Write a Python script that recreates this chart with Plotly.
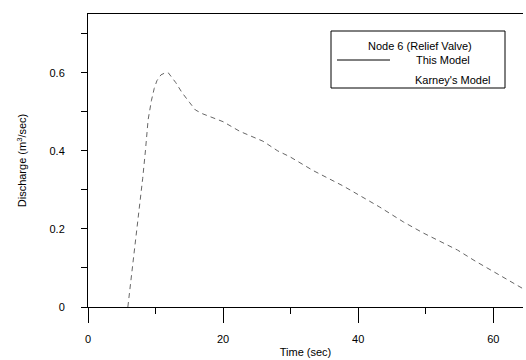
import plotly.graph_objects as go

# Data
time_sec = [5.9, 7.0, 8.1, 8.5, 8.9, 9.4, 9.8, 10.2, 10.8, 11.4, 11.9, 13.0, 13.9,
            15.0, 15.9, 17.0, 20.0, 22.5, 25.9, 28.1, 29.9, 33.3, 36.1, 37.8,
            43.2, 46.7, 49.6, 54.7, 57.3, 64.0, 64.3]
discharge = [0.0, 0.16, 0.33, 0.40, 0.48, 0.53, 0.56, 0.58, 0.595, 0.60, 0.60, 0.575, 0.55,
             0.525, 0.505, 0.495, 0.475, 0.45, 0.425, 0.40, 0.385, 0.35, 0.325, 0.31,
             0.256, 0.218, 0.19, 0.146, 0.118, 0.051, 0.048]

y_tickvals = [0, 0.2, 0.4, 0.6]
y_ticktext = ["0", "0.2", "0.4", "0.6"]
x_tickvals = [0, 20, 40, 60]
x_ticktext = ["0", "20", "40", "60"]

legend_title = "Node 6 (Relief Valve)"
legend_labels = ["This Model", "Karney's Model"]

FONT = "Liberation Sans, Arial, sans-serif"
W, H = 526, 360
L, R, T, B = 88, 3, 14, 53
PW, PH = W - L - R, H - T - B

def px(xp):
    return (xp - L) / PW

def py(yp):
    return (H - B - yp) / PH

fig = go.Figure()
fig.add_trace(go.Scatter(
    x=time_sec, y=discharge, mode="lines",
    line=dict(color="#666666", width=1, dash="5px,4px"),
    showlegend=False, name=legend_labels[1]))

shapes = [
    dict(type="rect", xref="paper", yref="paper",
         x0=px(331), x1=px(505), y0=py(88), y1=py(31),
         line=dict(color="black", width=1), fillcolor="white", layer="above"),
    dict(type="line", xref="paper", yref="paper",
         x0=px(337), x1=px(390), y0=py(60), y1=py(60),
         line=dict(color="black", width=1)),
]
annotations = [
    dict(text=legend_title, xref="paper", yref="paper", x=px(420), y=py(46),
         xanchor="center", yanchor="middle", showarrow=False,
         font=dict(family=FONT, size=11, color="black")),
    dict(text=legend_labels[0], xref="paper", yref="paper", x=px(414), y=py(60),
         xanchor="left", yanchor="middle", showarrow=False,
         font=dict(family=FONT, size=11, color="black")),
    dict(text=legend_labels[1], xref="paper", yref="paper", x=px(413), y=py(80),
         xanchor="left", yanchor="middle", showarrow=False,
         font=dict(family=FONT, size=11, color="black")),
]

fig.update_layout(
    width=W, height=H,
    margin=dict(l=L, r=R, t=T, b=B, autoexpand=False),
    paper_bgcolor="white", plot_bgcolor="white",
    font=dict(family=FONT, size=11, color="black"),
    shapes=shapes, annotations=annotations,
    xaxis=dict(range=[0, 64.4], showgrid=False, zeroline=False, automargin=False,
               showline=True, linecolor="black", linewidth=1, mirror=True,
               tickvals=x_tickvals, ticktext=x_ticktext,
               ticks="outside", ticklen=15, tickcolor="black", tickwidth=1,
               minor=dict(dtick=10, ticks="outside", ticklen=6, tickcolor="black"),
               ticklabelstandoff=7,
               title=dict(text="Time (sec)", standoff=4, font=dict(size=11)),
               tickfont=dict(size=11)),
    yaxis=dict(range=[0, 0.751], showgrid=False, zeroline=False, automargin=False,
               showline=True, linecolor="black", linewidth=1,
               tickvals=y_tickvals, ticktext=y_ticktext,
               ticks="outside", ticklen=6, tickcolor="black", tickwidth=1,
               minor=dict(dtick=0.1, ticks="outside", ticklen=6, tickcolor="black"),
               ticklabelstandoff=14,
               title=dict(text="Discharge (m<sup>3</sup>/sec)", standoff=20, font=dict(size=11)),
               tickfont=dict(size=11)),
)

fig.write_html("out.html", config={"displayModeBar": False},
               post_script="document.body.style.margin='0';document.body.style.overflow='hidden';")
